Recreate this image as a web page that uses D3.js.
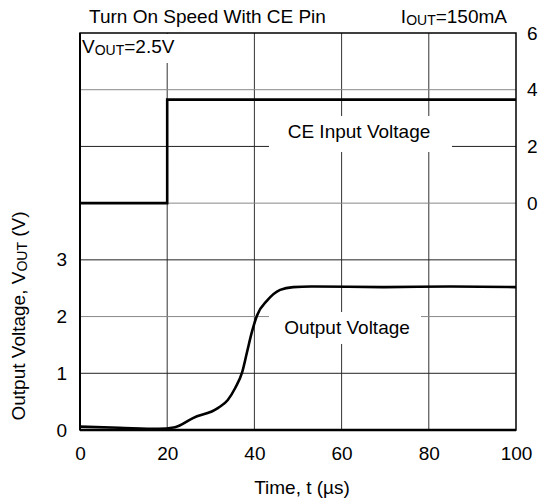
<!DOCTYPE html>
<html><head><meta charset="utf-8">
<script src="https://cdn.jsdelivr.net/npm/d3@7"></script>
<style>body{margin:0;background:#fff}svg{display:block;font-family:"Liberation Sans",Arial,sans-serif}</style>
</head><body><svg id="c" width="538" height="503"></svg>
<script>
const xTicks = [0, 20, 40, 60, 80, 100];
const leftTicks = [0, 1, 2, 3];
const rightTicks = [0, 2, 4, 6];
const ceTime = [0, 20, 20, 100];
const ceVolt = [0, 0, 3.65, 3.65];
const outTime = [0, 9, 18, 21.8, 25.9, 31.7, 33.9, 35.6, 37.2, 38.3, 39.4, 40.6, 42.9, 45.9, 48.9, 53, 70, 85, 100];
const outVolt = [0.06, 0.04, 0.02, 0.05, 0.21, 0.39, 0.53, 0.74, 1.02, 1.37, 1.72, 2.02, 2.28, 2.47, 2.52, 2.53, 2.52, 2.53, 2.52];

const svg = d3.select("#c");
const L = 80, R = 516, T = 33, B = 430;
const x = d3.scaleLinear().domain([0, 100]).range([L, R]);
const yL = d3.scaleLinear().domain([0, 7]).range([B, T]);
const yR = d3.scaleLinear().domain([-8, 6]).range([B, T]);
const FONT = "Liberation Sans, Arial, sans-serif";
const fs = 19, sub = 14;

// grid
const g = svg.append("g");
g.selectAll(".vg").data(xTicks.slice(1, -1)).join("line")
  .attr("x1", d => x(d)).attr("x2", d => x(d)).attr("y1", T).attr("y2", B)
  .attr("stroke", "#333").attr("stroke-width", 1);
g.selectAll(".hg").data(d3.range(1, 7)).join("line")
  .attr("x1", L).attr("x2", R).attr("y1", d => yL(d)).attr("y2", d => yL(d))
  .attr("stroke", d => d % 2 ? "#222" : "#888").attr("stroke-width", 1);

// label boxes
function boxLabel(x0, y0, w, h) {
  svg.append("rect").attr("x", x0).attr("y", y0).attr("width", w).attr("height", h).attr("fill", "#fff");
}
boxLabel(81, 34, 98, 29);
boxLabel(269, 116, 183, 36);
boxLabel(269, 312, 152, 32);

// frame
svg.append("rect").attr("x", L).attr("y", T).attr("width", R - L).attr("height", B - T)
  .attr("fill", "none").attr("stroke", "#000").attr("stroke-width", 1.5);
svg.append("line").attr("x1", L).attr("x2", R).attr("y1", B).attr("y2", B).attr("stroke", "#000").attr("stroke-width", 2.5);
svg.append("line").attr("x1", L).attr("x2", L).attr("y1", T).attr("y2", B).attr("stroke", "#000").attr("stroke-width", 2);

// lines
const ceData = ceTime.map((t, i) => [t, ceVolt[i]]);
svg.append("path").datum(ceData)
  .attr("d", d3.line().x(d => x(d[0])).y(d => yR(d[1])))
  .attr("fill", "none").attr("stroke", "#000").attr("stroke-width", 2.6);
const outData = outTime.map((t, i) => [t, outVolt[i]]);
svg.append("path").datum(outData)
  .attr("d", d3.line().curve(d3.curveMonotoneX).x(d => x(d[0])).y(d => yL(d[1])))
  .attr("fill", "none").attr("stroke", "#000").attr("stroke-width", 2.6);

// axes
function styleAxis(sel) {
  sel.select(".domain").remove();
  sel.selectAll("text").attr("font-size", fs).attr("fill", "#000").attr("font-family", FONT);
}
const ax = svg.append("g").attr("transform", `translate(0,${B})`)
  .call(d3.axisBottom(x).tickValues(xTicks).tickSize(0).tickPadding(17).tickFormat(d3.format("d")));
styleAxis(ax);
const al = svg.append("g").attr("transform", `translate(${L},0)`)
  .call(d3.axisLeft(yL).tickValues(leftTicks).tickSize(0).tickPadding(13).tickFormat(d3.format("d")));
styleAxis(al);
const ar = svg.append("g").attr("transform", `translate(${R},0)`)
  .call(d3.axisRight(yR).tickValues(rightTicks).tickSize(0).tickPadding(11).tickFormat(d3.format("d")));
styleAxis(ar);

// texts
function txt(xp, yp, anchor) {
  return svg.append("text").attr("x", xp).attr("y", yp).attr("text-anchor", anchor)
    .attr("font-size", fs).attr("fill", "#000").attr("font-family", FONT);
}
function subText(sel, a, s, b) {
  sel.append("tspan").text(a);
  sel.append("tspan").attr("font-size", sub).attr("dy", 2).text(s);
  sel.append("tspan").attr("dy", -2).text(b);
}
txt(89, 23, "start").text("Turn On Speed With CE Pin");
subText(txt(507, 23, "end"), "I", "OUT", "=150mA");
subText(txt(82, 53, "start"), "V", "OUT", "=2.5V");
txt(359, 138, "middle").text("CE Input Voltage");
txt(347, 334, "middle").text("Output Voltage");
txt(302, 494, "middle").text("Time, t (µs)");
const yl = svg.append("text").attr("transform", "translate(25,316) rotate(-90)")
  .attr("text-anchor", "middle").attr("font-size", fs).attr("fill", "#000").attr("font-family", FONT);
subText(yl, "Output Voltage, V", "OUT", " (V)");
</script></body></html>
